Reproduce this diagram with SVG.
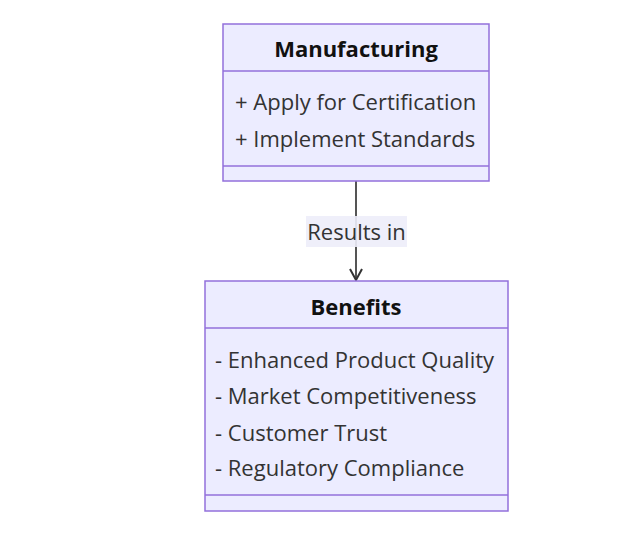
<svg xmlns="http://www.w3.org/2000/svg" width="634" height="538" viewBox="0 0 634 538">
<defs>
<style>
.box{fill:#ECECFF;stroke:#9370DB;stroke-width:1.5}
.div{stroke:#9370DB;stroke-width:1.5}
.t{font-family:"Open Sans","Noto Sans",sans-serif;font-size:22px;fill:#333}
.h{font-weight:bold;fill:#111}
.edge{stroke:#555;stroke-width:2;fill:none}
</style>
<marker id="arr" markerWidth="14" markerHeight="14" refX="12" refY="7" orient="auto" markerUnits="userSpaceOnUse">
<path d="M1,1 L12,7 L1,13" fill="none" stroke="#333" stroke-width="2"/>
</marker>
</defs>
<rect width="634" height="538" fill="#fff"/>
<g id="connectors">
<path class="edge" d="M356,181 L356,280" marker-end="url(#arr)"/>
<rect x="306" y="216" width="101" height="31" fill="#EDEDFA" opacity="0.9"/>
<text class="t" x="356.5" y="239.5" text-anchor="middle">Results in</text>
</g>
<g id="Manufacturing">
<rect class="box" x="223" y="24" width="266" height="157"/>
<line class="div" x1="223" y1="71" x2="489" y2="71"/>
<line class="div" x1="223" y1="166" x2="489" y2="166"/>
<text class="t h" x="356" y="57" text-anchor="middle">Manufacturing</text>
<text class="t" x="235" y="110">+ Apply for Certification</text>
<text class="t" x="235" y="147">+ Implement Standards</text>
</g>
<g id="Benefits">
<rect class="box" x="205" y="281" width="303" height="230"/>
<line class="div" x1="205" y1="328" x2="508" y2="328"/>
<line class="div" x1="205" y1="495" x2="508" y2="495"/>
<text class="t h" x="356" y="315" text-anchor="middle">Benefits</text>
<text class="t" x="215" y="368">- Enhanced Product Quality</text>
<text class="t" x="215" y="404">- Market Competitiveness</text>
<text class="t" x="215" y="441">- Customer Trust</text>
<text class="t" x="215" y="476">- Regulatory Compliance</text>
</g>
</svg>
